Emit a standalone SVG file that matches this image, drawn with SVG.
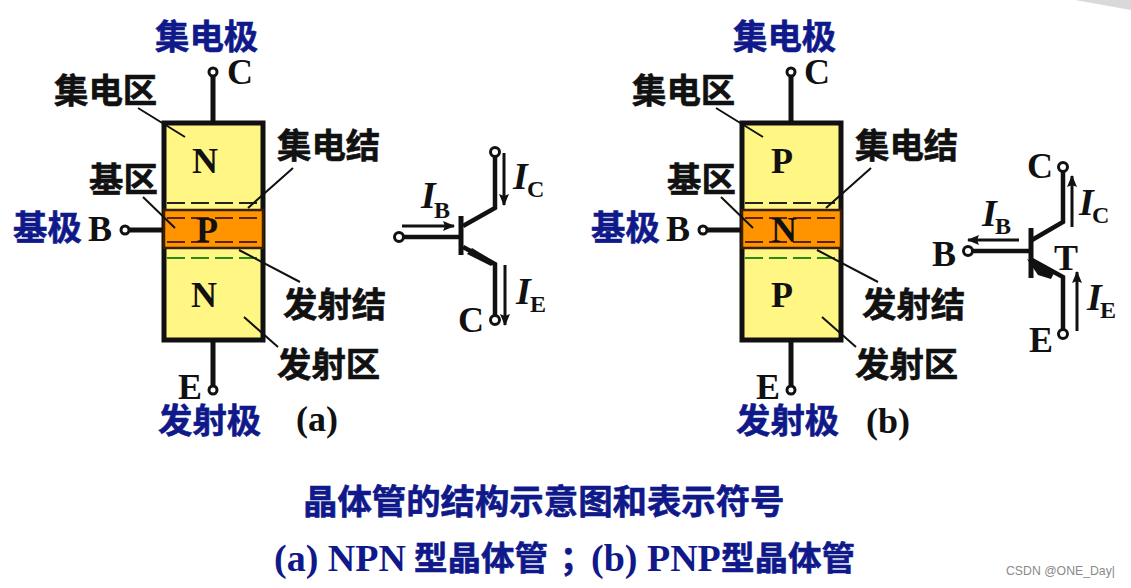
<svg xmlns="http://www.w3.org/2000/svg" width="1131" height="588" viewBox="0 0 1131 588">
<style>
.cn{font-family:"Noto Sans CJK SC","Liberation Sans",sans-serif;font-weight:700;font-size:34.4px;fill:#111;stroke:#111;stroke-width:.6}
.blue{fill:#10198a;stroke:#10198a}
.en{font-family:"Liberation Serif",serif;font-weight:700;fill:#111;font-size:36px}
.it{font-style:italic;font-size:38px}
.sub{font-size:24px}
.w{fill:none;stroke:#111;stroke-width:5}
.t{fill:none;stroke:#111;stroke-width:4.5}
.l{fill:none;stroke:#111;stroke-width:2}
.a{fill:none;stroke:#111;stroke-width:3}
.d{fill:none;stroke:#222;stroke-width:2;stroke-dasharray:18 6}
.dk{fill:none;stroke:#5a2500;stroke-width:2;stroke-dasharray:18 6}
.g{fill:none;stroke:#2b8a16;stroke-width:2;stroke-dasharray:18 6}
.o{fill:#fff;stroke:#111;stroke-width:3}
.cap{font-family:"Liberation Serif",serif;font-weight:700;font-size:38px;fill:#10198a}
.capc{font-family:"Noto Sans CJK SC",sans-serif;font-weight:700;font-size:33.5px;fill:#10198a;stroke:#10198a;stroke-width:.6}
</style>
<defs>
<marker id="ah" markerWidth="13" markerHeight="10" refX="11" refY="5" orient="auto" markerUnits="userSpaceOnUse"><path d="M0 0L12 5L0 10L2 5Z" fill="#111"/></marker>
<g id="struct">
<path class="w" d="M213 72V121M213 342V390M126 230H163"/>
<circle class="o" cx="213" cy="72" r="4"/><circle class="o" cx="213" cy="390" r="4"/><circle class="o" cx="125" cy="230" r="4"/>
<rect x="164" y="123" width="99" height="217" fill="#fff684" stroke="#111" stroke-width="5"/>
<rect x="164" y="210" width="99" height="38" fill="#ff9400" stroke="#3a2000" stroke-width="2.5"/>
<path class="d" d="M167 203H260"/><path class="dk" d="M167 218H260M167 242H260"/><path class="g" d="M167 258H260"/>
<path class="l" d="M138 108L185 137M143 197L175 228M293 168L248 208M239 250L300 282M244 317L278 347"/>
</g>
</defs>
<path d="M1075 0H1131V10Z" fill="#d9d9d9"/>
<g id="npn-structure">
<use href="#struct"/>
<text class="en" x="205" y="173" text-anchor="middle">N</text>
<text class="en" x="207" y="242" text-anchor="middle">P</text>
<text class="en" x="204" y="307" text-anchor="middle">N</text>
<text class="en" x="227" y="84">C</text>
<text class="en" x="88" y="241">B</text>
<text class="en" x="178" y="399">E</text>
<text class="cn blue" x="155" y="49">集电极</text>
<text class="cn" x="54" y="103">集电区</text>
<text class="cn" x="277" y="158">集电结</text>
<text class="cn" x="89" y="192">基区</text>
<text class="cn blue" x="13" y="240">基极</text>
<text class="cn" x="283" y="317">发射结</text>
<text class="cn" x="277" y="377">发射区</text>
<text class="cn blue" x="158" y="433">发射极</text>
<text class="en" x="296" y="431" font-size="28">(a)</text>
</g>
<g id="pnp-structure">
<use href="#struct" x="578"/>
<text class="en" x="782" y="173" text-anchor="middle">P</text>
<text class="en" x="784" y="242" text-anchor="middle">N</text>
<text class="en" x="782" y="307" text-anchor="middle">P</text>
<text class="en" x="804" y="84">C</text>
<text class="en" x="666" y="241">B</text>
<text class="en" x="756" y="399">E</text>
<text class="cn blue" x="733" y="49">集电极</text>
<text class="cn" x="632" y="103">集电区</text>
<text class="cn" x="855" y="158">集电结</text>
<text class="cn" x="667" y="192">基区</text>
<text class="cn blue" x="591" y="240">基极</text>
<text class="cn" x="862" y="317">发射结</text>
<text class="cn" x="855" y="377">发射区</text>
<text class="cn blue" x="736" y="433">发射极</text>
<text class="en" x="866" y="433" font-size="28">(b)</text>
</g>
<g id="npn-symbol">
<path class="t" d="M403 237H461M495 156V208L463 226M463 247L495 264V316"/>
<path d="M461 216V255" stroke="#111" stroke-width="5"/>
<path d="M472 248L495 262L491 266L467 254Z" fill="#111"/>
<circle class="o" cx="399" cy="237" r="4.5"/><circle class="o" cx="495" cy="152" r="4.5"/><circle class="o" cx="495" cy="320" r="4.5"/>
<path class="a" d="M402 226H454" marker-end="url(#ah)"/><path class="a" d="M504 153V205" marker-end="url(#ah)"/><path class="a" d="M505 265V325" marker-end="url(#ah)"/>
<text class="en it" x="421" y="208">I</text><text class="en sub" x="434" y="218">B</text>
<text class="en it" x="513" y="189">I</text><text class="en sub" x="527" y="197">C</text>
<text class="en it" x="516" y="304">I</text><text class="en sub" x="530" y="312">E</text>
<text class="en" x="458" y="332">C</text>
</g>
<g id="pnp-symbol">
<path class="t" d="M972 251H1030M1063 171V222L1032 240M1032 260L1063 277V330"/>
<path d="M1031 228V278" stroke="#111" stroke-width="5"/>
<path d="M1027 259L1055 271L1051 279L1038 275Z" fill="#111"/>
<circle class="o" cx="968" cy="251" r="4.5"/><circle class="o" cx="1063" cy="167" r="4.5"/><circle class="o" cx="1063" cy="334" r="4.5"/>
<path class="a" d="M1019 240H968" marker-end="url(#ah)"/><path class="a" d="M1072 227V176" marker-end="url(#ah)"/><path class="a" d="M1077 331V272" marker-end="url(#ah)"/>
<text class="en it" x="982" y="226">I</text><text class="en sub" x="995" y="234">B</text>
<text class="en it" x="1079" y="215">I</text><text class="en sub" x="1092" y="223">C</text>
<text class="en it" x="1087" y="310">I</text><text class="en sub" x="1100" y="318">E</text>
<text class="en" x="1027" y="178">C</text>
<text class="en" x="932" y="266">B</text>
<text class="en" x="1054" y="270" font-size="30">T</text>
<text class="en" x="1029" y="352" font-size="32">E</text>
</g>
<g id="caption">
<text class="cn blue" x="303" y="514">晶体管的结构示意图和表示符号</text>
<text class="cap" x="274" y="571">(a) NPN</text>
<text class="capc" x="414" y="570">型晶体管</text>
<text class="capc" x="560" y="570">；</text>
<text class="cap" x="591" y="571">(b) PNP</text>
<text class="capc" x="721" y="570">型晶体管</text>
</g>
<text x="1006" y="575" font-family="Liberation Sans,sans-serif" font-size="13" textLength="109" lengthAdjust="spacingAndGlyphs" fill="#8a8a8a">CSDN @ONE_Day|</text>
</svg>
